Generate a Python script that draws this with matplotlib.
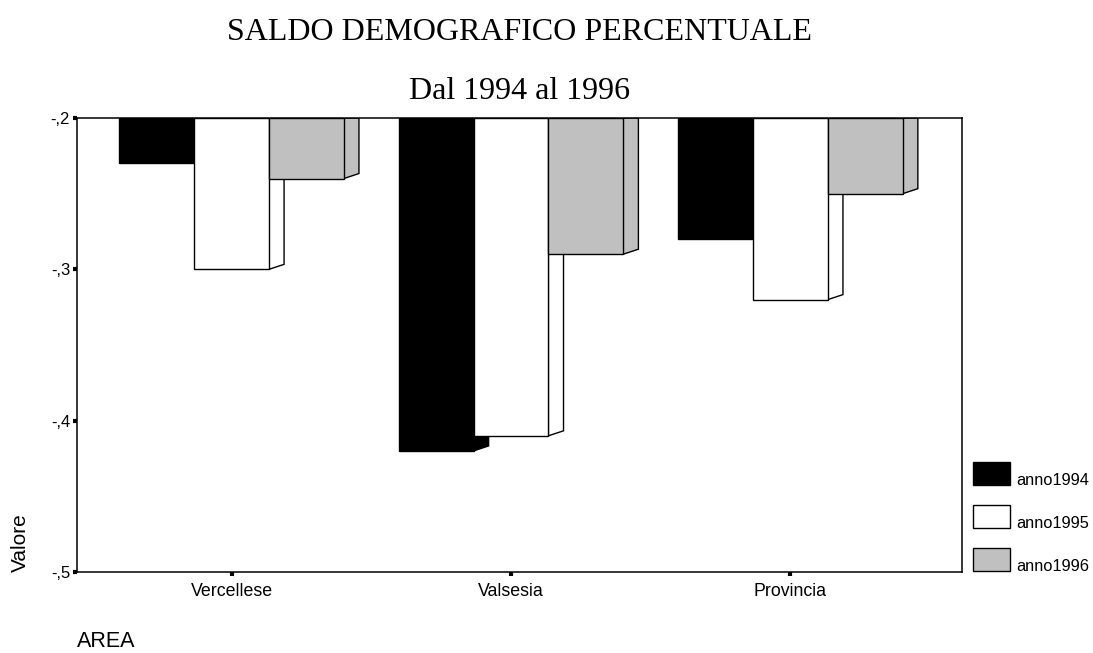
import matplotlib.pyplot as plt
from matplotlib.patches import Polygon, Rectangle
from matplotlib.ticker import FuncFormatter

# Saldo demografico percentuale per area, anni 1994-1996
AREE = ["Vercellese", "Valsesia", "Provincia"]
ANNI = ["anno1994", "anno1995", "anno1996"]
ANNO_1994 = [-0.23, -0.42, -0.28]
ANNO_1995 = [-0.30, -0.41, -0.32]
ANNO_1996 = [-0.24, -0.29, -0.25]
Y_TICKS = [-0.5, -0.4, -0.3, -0.2]

COLORI = ["#000000", "#ffffff", "#c0c0c0"]
BASE = -0.2          # bars hang down from the top of the axis
LARGHEZZA = 0.268    # bar width in category units
DX, DY = 0.054, 0.0033   # depth of the fake 3D side face

W, H = 1093, 653
fig = plt.figure(figsize=(W / 100, H / 100), dpi=100)
ax = fig.add_axes([77 / W, (H - 572) / H, (962 - 77) / W, (572 - 118) / H])

serie = [ANNO_1994, ANNO_1995, ANNO_1996]
for i, (valori, colore) in enumerate(zip(serie, COLORI)):
    offset = (i - 1) * LARGHEZZA
    for j, v in enumerate(valori):
        x0 = j + offset - LARGHEZZA / 2
        x1 = x0 + LARGHEZZA
        # side face first, then the front face on top of it
        lato = Polygon([(x1, v), (x1 + DX, v + DY), (x1 + DX, BASE), (x1, BASE)],
                       closed=True, facecolor=colore, edgecolor="black",
                       linewidth=1, zorder=1 + i)
        ax.add_patch(lato)
    ax.bar([j + offset for j in range(len(valori))],
           [BASE - v for v in valori], bottom=valori, width=LARGHEZZA,
           color=colore, edgecolor="black", linewidth=1, zorder=1 + i)

ax.set_xlim(-0.553, 2.614)
ax.set_ylim(-0.5, -0.2)
ax.set_xticks(range(len(AREE)))
ax.set_xticklabels(AREE, fontsize=12.8, family="Liberation Sans")
ax.set_yticks(Y_TICKS)
ax.yaxis.set_major_formatter(FuncFormatter(lambda v, p: f"{v:.1f}".replace("0.", ",")))
for lab in ax.get_yticklabels():
    lab.set_fontsize(12)
    lab.set_family("Liberation Sans")
ax.tick_params(axis="both", direction="out", length=3, width=3, color="black")
ax.tick_params(axis="x", pad=5)
ax.tick_params(axis="y", pad=2)
for sp in ax.spines.values():
    sp.set_linewidth(1.1)
    sp.set_zorder(10)

# titles
fig.text(519.5 / W, (H - 40) / H, "SALDO DEMOGRAFICO PERCENTUALE", ha="center",
         va="baseline", fontsize=23, family="Liberation Serif")
fig.text(519.5 / W, (H - 99) / H, "Dal 1994 al 1996", ha="center",
         va="baseline", fontsize=23, family="Liberation Serif")

# axis names
fig.text(20 / W, (H - 572) / H, "Valore", rotation=90, ha="center", va="bottom",
         fontsize=15, family="Liberation Sans")
fig.text(77 / W, (H - 647) / H, "AREA", ha="left", va="baseline",
         fontsize=15.5, family="Liberation Sans")

# legend boxes
for k, (nome, colore) in enumerate(zip(ANNI, COLORI)):
    fondo = 485 + k * 43
    fig.add_artist(Rectangle((973 / W, (H - fondo) / H), 37 / W, 23 / H,
                             transform=fig.transFigure, facecolor=colore,
                             edgecolor="black", linewidth=1))
    fig.text(1016 / W, (H - fondo) / H, nome, ha="left", va="baseline",
             fontsize=11.8, family="Liberation Sans")

fig.savefig("out.png", dpi=100)
